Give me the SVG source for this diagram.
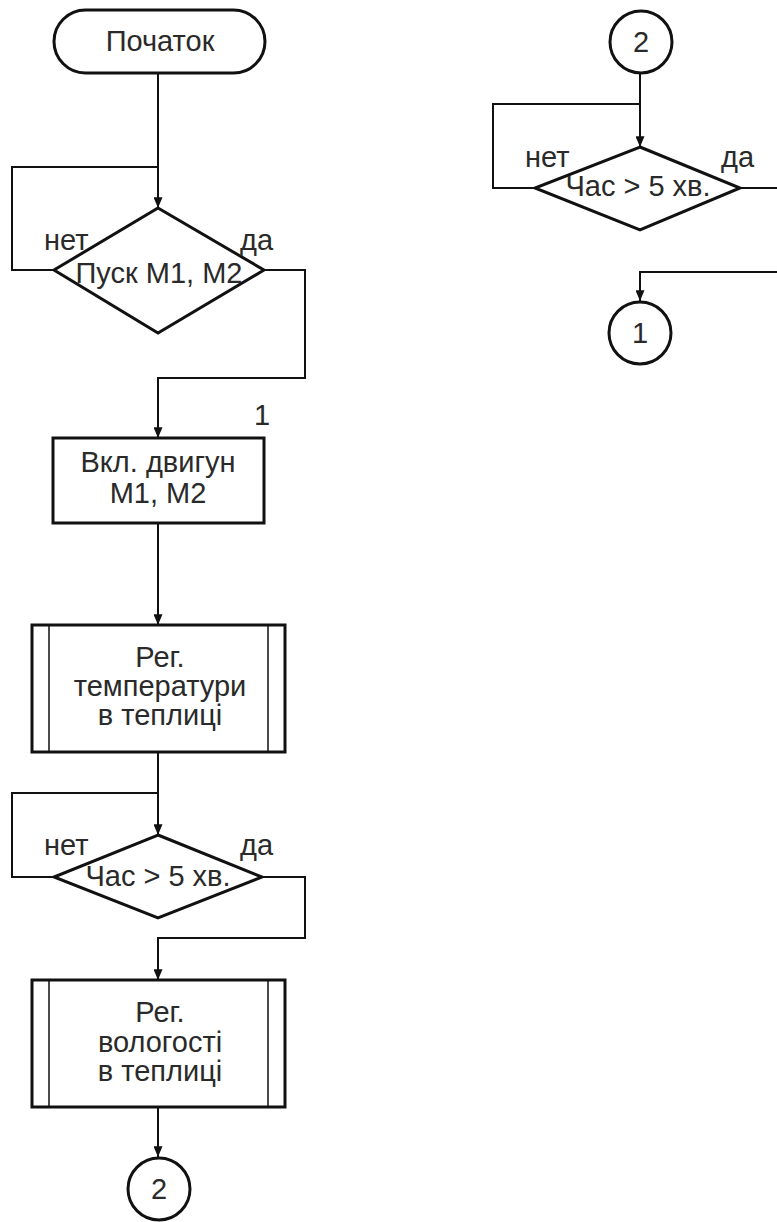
<svg xmlns="http://www.w3.org/2000/svg" width="777" height="1222" viewBox="0 0 777 1222">
<style>
.s{fill:#fff;stroke:#111;stroke-width:3}
.in{fill:none;stroke:#111;stroke-width:1.5}
.c{fill:none;stroke:#111;stroke-width:2}
.t{font-family:"Liberation Sans",Arial,sans-serif;font-size:29px;fill:#2a2a2a;text-anchor:middle}
.l{font-family:"Liberation Sans",Arial,sans-serif;font-size:29px;fill:#2a2a2a}
</style>
<defs>
<marker id="a" viewBox="0 0 12 10" refX="12" refY="5" markerWidth="12" markerHeight="9" orient="auto" markerUnits="userSpaceOnUse">
<path d="M0,0 L12,5 L0,10 z" fill="#111"/>
</marker>
</defs>
<rect width="777" height="1222" fill="#fff"/>
<g id="connectors">
<path class="c" d="M158,73 V208" marker-end="url(#a)"/>
<path class="c" d="M54,270 H12 V167 H158"/>
<path class="c" d="M264,270 H305 V378 H158 V438" marker-end="url(#a)"/>
<path class="c" d="M158,523 V625" marker-end="url(#a)"/>
<path class="c" d="M158,752 V835" marker-end="url(#a)"/>
<path class="c" d="M54,877 H12 V793 H158"/>
<path class="c" d="M262,877 H305 V938 H158 V980" marker-end="url(#a)"/>
<path class="c" d="M158,1107 V1157" marker-end="url(#a)"/>
<path class="c" d="M640,74 V147" marker-end="url(#a)"/>
<path class="c" d="M535,188 H493 V104 H640"/>
<path class="c" d="M740,188 H777"/>
<path class="c" d="M777,272 H640 V301" marker-end="url(#a)"/>
</g>
<g id="start">
<rect class="s" x="54" y="10" width="211" height="63" rx="31.5"/>
<text class="t" x="160" y="51">Початок</text>
</g>
<g id="dec1">
<polygon class="s" points="158,208 264,270 158,333 54,270"/>
<text class="t" x="159" y="283">Пуск М1, М2</text>
<text class="l" x="44" y="250">нет</text>
<text class="l" x="240" y="250">да</text>
</g>
<g id="proc1">
<rect class="s" x="53" y="438" width="211" height="85"/>
<text class="t" x="158" y="472">Вкл. двигун</text>
<text class="t" x="158" y="503">М1, М2</text>
<text class="l" x="254" y="425">1</text>
</g>
<g id="sub1">
<rect class="s" x="32" y="625" width="253" height="127"/>
<path class="in" d="M49,625 V752 M268,625 V752"/>
<text class="t" x="160" y="667">Рег.</text>
<text class="t" x="160" y="696">температури</text>
<text class="t" x="160" y="725">в теплиці</text>
</g>
<g id="dec2">
<polygon class="s" points="158,835 262,877 158,918 54,877"/>
<text class="t" x="158" y="886">Час &gt; 5 хв.</text>
<text class="l" x="44" y="855">нет</text>
<text class="l" x="240" y="855">да</text>
</g>
<g id="sub2">
<rect class="s" x="32" y="980" width="253" height="127"/>
<path class="in" d="M49,980 V1107 M268,980 V1107"/>
<text class="t" x="160" y="1022">Рег.</text>
<text class="t" x="160" y="1052">вологості</text>
<text class="t" x="160" y="1081">в теплиці</text>
</g>
<g id="conn2a">
<circle class="s" cx="159" cy="1189" r="31"/>
<text class="t" x="159" y="1199">2</text>
</g>
<g id="conn2b">
<circle class="s" cx="641" cy="42" r="31"/>
<text class="t" x="641" y="52">2</text>
</g>
<g id="dec3">
<polygon class="s" points="640,147 740,188 640,230 535,188"/>
<text class="t" x="638" y="196">Час &gt; 5 хв.</text>
<text class="l" x="525" y="167">нет</text>
<text class="l" x="721" y="167">да</text>
</g>
<g id="conn1">
<circle class="s" cx="640" cy="333" r="31"/>
<text class="t" x="640" y="343">1</text>
</g>
</svg>
